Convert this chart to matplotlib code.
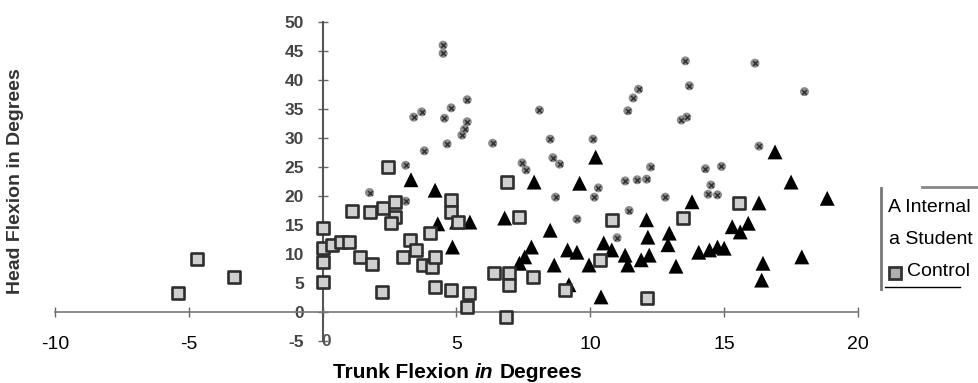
import matplotlib
matplotlib.use("Agg")
import matplotlib.pyplot as plt
from matplotlib.lines import Line2D

plt.rcParams['font.family'] = ['Liberation Sans', 'DejaVu Sans']

# Internal (black triangles)
internal_x = [3.3, 4.2, 4.3, 4.85, 5.0, 5.5, 6.8, 7.35, 7.55, 7.8, 7.9, 8.5, 8.65,
              9.15, 9.5, 9.2, 9.6, 9.95, 10.2, 10.4, 10.5, 10.8, 11.3, 11.4, 11.9,
              12.2, 12.1, 12.15, 12.95, 12.9, 13.2, 13.8, 14.05, 14.45, 14.75, 15.0,
              15.3, 15.6, 15.9, 16.3, 16.45, 16.4, 16.9, 17.5, 17.9, 18.85]
internal_y = [22.8, 21.0, 15.2, 11.2, 15.5, 15.5, 16.2, 8.4, 9.5, 11.2, 22.4, 14.1, 8.1,
              10.7, 10.3, 4.7, 22.2, 8.1, 26.7, 2.6, 11.9, 10.7, 9.8, 8.1, 9.0,
              9.8, 15.9, 12.9, 13.6, 11.6, 7.9, 19.0, 10.3, 10.7, 11.2, 11.0,
              14.7, 13.8, 15.3, 18.8, 8.4, 5.5, 27.6, 22.4, 9.5, 19.6]

# Student (small grey dots)
student_x = [4.5, 4.5, 5.4, 4.8, 3.7, 3.4, 4.55, 5.4, 5.3, 5.2, 4.65, 3.8, 6.35,
             8.1, 8.5, 10.1, 8.6, 8.85, 7.45, 7.6, 3.1, 1.75, 3.1, 11.3, 10.3,
             8.7, 10.15, 9.5, 13.55, 16.15, 13.7, 11.8, 11.6, 11.4, 18.0, 13.6,
             13.4, 16.3, 12.25, 14.3, 14.9, 11.75, 12.1, 14.5, 14.75, 14.4,
             12.8, 11.45, 11.0]
student_y = [46.0, 44.6, 36.6, 35.2, 34.5, 33.6, 33.4, 32.8, 31.5, 30.5, 29.0, 27.8, 29.1,
             34.8, 29.8, 29.8, 26.6, 25.5, 25.7, 24.5, 25.3, 20.6, 19.1, 22.6, 21.4,
             19.8, 19.8, 16.0, 43.3, 42.9, 39.0, 38.4, 36.9, 34.7, 38.0, 33.6,
             33.1, 28.6, 25.0, 24.7, 25.1, 22.8, 22.9, 21.9, 20.2, 20.3,
             19.8, 17.5, 12.8]

# Control (open squares)
control_x = [-5.4, -4.7, -3.3, 0.0, 0.0, 0.0, 0.0, 0.35, 0.7, 1.0, 1.1, 1.4, 1.75,
             1.85, 2.2, 2.25, 2.45, 2.7, 2.7, 2.55, 3.0, 3.25, 3.5, 3.75, 4.0, 4.1,
             4.2, 4.2, 4.8, 4.8, 4.8, 5.05, 5.45, 5.4, 6.4, 6.85, 6.9, 6.95, 6.95,
             7.35, 7.85, 9.05, 10.35, 10.8, 12.1, 13.45, 15.55]
control_y = [3.3, 9.1, 6.0, 14.5, 11.0, 8.6, 5.2, 11.5, 12.1, 12.1, 17.4, 9.5, 17.2,
             8.3, 3.4, 17.9, 25.0, 19.0, 16.4, 15.3, 9.5, 12.4, 10.7, 8.1, 13.6, 7.8,
             9.5, 4.3, 3.8, 19.3, 17.2, 15.5, 3.3, 0.9, 6.7, -0.9, 22.4, 6.7, 4.7,
             16.4, 6.0, 3.8, 9.0, 15.9, 2.4, 16.2, 18.8]

x_ticks = [-10, -5, 0, 5, 10, 15, 20]
x_labels = ['-10', '-5', '', '5', '10', '15', '20']
y_ticks = [-5, 0, 5, 10, 15, 20, 25, 30, 35, 40, 45, 50]
y_labels = [str(v) for v in y_ticks]
legend_labels = ['A Internal', 'a Student', 'Control']

W, H = 979, 383
fig = plt.figure(figsize=(W / 100, H / 100), dpi=100)
ax = fig.add_axes([55 / W, 1 - 341 / H, (858 - 55) / W, (341 - 22) / H])
ax.set_xlim(-10, 20)
ax.set_ylim(-5, 50)

# points
ax.scatter(student_x, student_y, s=42, c='#8c8c8c', edgecolors='none', zorder=2)
ax.scatter(student_x, student_y, s=12, marker='x', c='#333333', linewidths=1.1, zorder=2)
ax.scatter(internal_x, internal_y, s=115, marker='^', c='black', edgecolors='none', zorder=3)
ax.scatter(control_x, control_y, s=85, marker='s', c='#cfcfcf', edgecolors='#2e2e2e',
           linewidths=1.9, zorder=4)

# axes crossing at zero
for side in ['top', 'right']:
    ax.spines[side].set_visible(False)
ax.spines['left'].set_position(('data', 0))
ax.spines['bottom'].set_position(('data', 0))
ax.spines['left'].set_color('#555555')
ax.spines['bottom'].set_color('#777777')
ax.spines['left'].set_linewidth(1.5)
ax.spines['bottom'].set_linewidth(1.2)

ax.set_xticks(x_ticks)
ax.set_xticklabels(x_labels)
ax.set_yticks(y_ticks)
ax.set_yticklabels(y_labels)
ax.tick_params(axis='both', direction='inout', length=7, width=1, color='#666666')
ax.tick_params(axis='x', pad=14, labelsize=14, labelcolor='black')
ax.tick_params(axis='y', pad=10, labelsize=12.5, labelcolor='#444444')
for lab in ax.get_yticklabels():
    lab.set_fontweight('bold')

# grey "0" under the origin
ax.text(0.15, -5, '0', ha='center', va='center', fontsize=12.5, color='#555555',
        fontweight='bold')

# axis titles
fig.text(16 / W, 1 - 181 / H, 'Head Flexion in Degrees', rotation=90, ha='center',
         va='center', fontsize=14, fontweight='bold', color='#333333')
t1 = fig.text(333 / W, 1 - 372 / H, 'Trunk Flexion', ha='left', va='center',
              fontsize=15, fontweight='bold')
t2 = ax.annotate('in', xy=(1, 0), xycoords=t1, xytext=(4.5, 0), textcoords='offset points',
                 ha='left', va='bottom', fontsize=15, fontweight='bold', style='italic',
                 annotation_clip=False)
ax.annotate('Degrees', xy=(1, 0), xycoords=t2, xytext=(4.5, 0), textcoords='offset points',
            ha='left', va='bottom', fontsize=15, fontweight='bold', annotation_clip=False)

# legend box drawn by hand
tf = fig.transFigure
fig.add_artist(Line2D([881 / W, 881 / W], [1 - 188 / H, 1 - 289 / H], color='#777777',
                      lw=2, transform=tf))
fig.add_artist(Line2D([922 / W, 1.0], [1 - 187 / H, 1 - 187 / H], color='#888888',
                      lw=2, transform=tf))
fig.add_artist(Line2D([885 / W, 960 / W], [1 - 287 / H, 1 - 287 / H], color='black',
                      lw=1, transform=tf))
fig.text(888 / W, 1 - 207 / H, legend_labels[0], ha='left', va='center', fontsize=14)
fig.text(889 / W, 1 - 240 / H, legend_labels[1], ha='left', va='center', fontsize=14)
fig.add_artist(Line2D([895 / W], [1 - 273 / H], marker='s', markersize=9,
                      markerfacecolor='#b0b0b0', markeredgecolor='#333333',
                      markeredgewidth=2, transform=tf))
fig.text(907 / W, 1 - 272 / H, legend_labels[2], ha='left', va='center', fontsize=14)

fig.savefig('out.png', dpi=100, facecolor='white')
